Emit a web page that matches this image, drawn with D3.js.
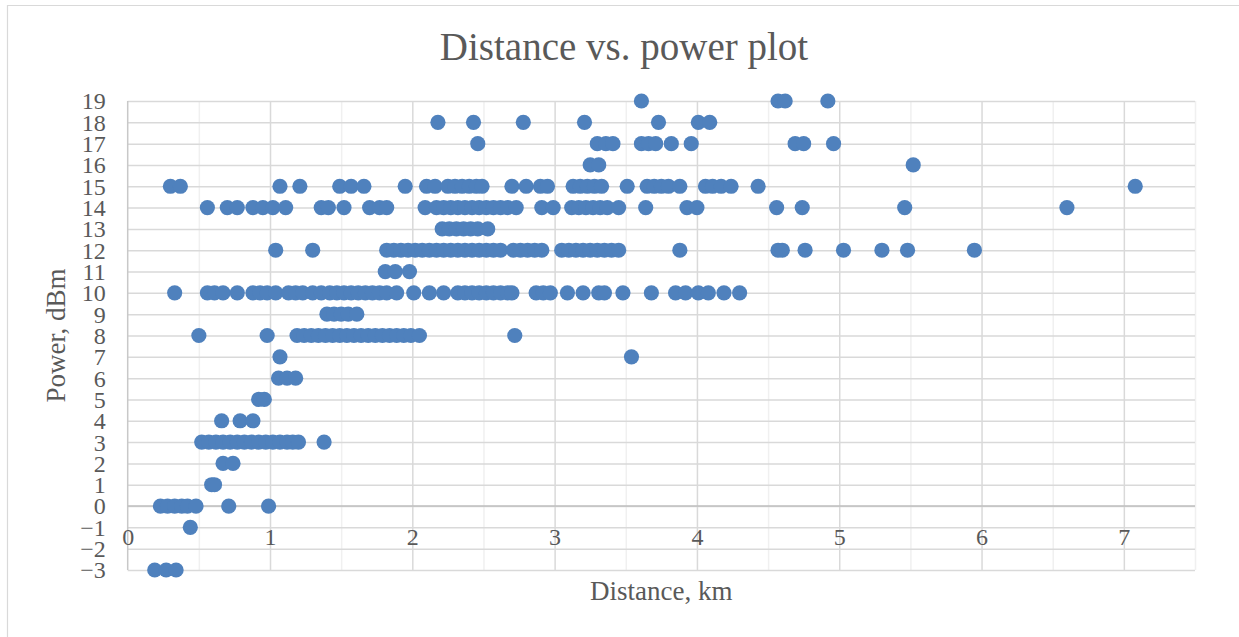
<!DOCTYPE html>
<html>
<head>
<meta charset="utf-8">
<script src="https://cdn.jsdelivr.net/npm/d3@7/dist/d3.min.js"></script>
<style>
  html, body { margin: 0; padding: 0; background: #ffffff; }
  svg { display: block; }
  text { font-family: "Liberation Serif", "Times New Roman", serif; fill: #595959; }
</style>
</head>
<body>
<div id="chart"></div>
<script>
const W = 1239;
const H = 637;

// distance (km) of each measurement, grouped by transmit power (dBm)
const powerLevels = [19, 18, 17, 16, 15, 14, 13, 12, 11, 10, 9, 8, 7, 6, 5, 4, 3, 2, 1, 0, -1, -3];

const dist19 = [3.61, 4.57, 4.62, 4.92];
const dist18 = [2.18, 2.43, 2.78, 3.21, 3.73, 4.01, 4.09];
const dist17 = [2.46, 3.30, 3.36, 3.41, 3.61, 3.66, 3.71, 3.82, 3.96, 4.69, 4.75, 4.96];
const dist16 = [3.25, 3.31, 5.52];
const dist15 = [0.30, 0.37, 1.07, 1.21, 1.49, 1.57, 1.66, 1.95, 2.10, 2.16, 2.25, 2.30, 2.35, 2.40, 2.45,
  2.49, 2.70, 2.80, 2.90, 2.95, 3.13, 3.18, 3.23, 3.28, 3.33, 3.51, 3.65, 3.70, 3.75, 3.80, 3.88,
  4.06, 4.11, 4.17, 4.24, 4.43, 7.08];
const dist14 = [0.56, 0.70, 0.77, 0.88, 0.95, 1.02, 1.11, 1.36, 1.41, 1.52, 1.70, 1.77, 1.82, 2.09,
  2.17, 2.22, 2.27, 2.32, 2.37, 2.42, 2.47, 2.52, 2.57, 2.62, 2.67, 2.73, 2.91, 2.99,
  3.12, 3.17, 3.22, 3.27, 3.32, 3.37, 3.45, 3.64, 3.93, 4.00, 4.56, 4.74, 5.46, 6.60];
const dist13 = [2.21, 2.26, 2.31, 2.36, 2.41, 2.46, 2.53];
const dist12 = [1.04, 1.30, 1.82, 1.87, 1.92, 1.97, 2.02, 2.07, 2.12, 2.17, 2.22, 2.27, 2.32, 2.37,
  2.42, 2.47, 2.52, 2.57, 2.62, 2.71, 2.76, 2.81, 2.86, 2.91, 3.05, 3.10, 3.15, 3.20, 3.25, 3.30,
  3.35, 3.40, 3.45, 3.88, 4.57, 4.60, 4.76, 5.03, 5.30, 5.48, 5.95];
const dist11 = [1.81, 1.88, 1.98];
const dist10 = [0.33, 0.56, 0.61, 0.67, 0.77, 0.88, 0.93, 0.98, 1.04, 1.13, 1.18, 1.23, 1.30, 1.36,
  1.42, 1.47, 1.52, 1.57, 1.62, 1.67, 1.72, 1.77, 1.82, 1.89, 2.01, 2.12, 2.22, 2.32, 2.37, 2.42,
  2.47, 2.52, 2.57, 2.62, 2.67, 2.70, 2.87, 2.92, 2.97, 3.09, 3.20, 3.31, 3.35, 3.48, 3.68,
  3.85, 3.92, 4.01, 4.08, 4.19, 4.30];
const dist9 = [1.40, 1.45, 1.50, 1.55, 1.61];
const dist8 = [0.50, 0.98, 1.19, 1.24, 1.29, 1.34, 1.39, 1.44, 1.49, 1.54, 1.59, 1.64, 1.69, 1.74,
  1.79, 1.84, 1.89, 1.94, 1.99, 2.05, 2.72];
const dist7 = [1.07, 3.54];
const dist6 = [1.06, 1.12, 1.18];
const dist5 = [0.92, 0.96];
const dist4 = [0.66, 0.79, 0.88];
const dist3 = [0.52, 0.57, 0.62, 0.67, 0.72, 0.77, 0.82, 0.87, 0.92, 0.97, 1.02, 1.07, 1.12, 1.16,
  1.20, 1.38];
const dist2 = [0.67, 0.74];
const dist1 = [0.59, 0.61];
const dist0 = [0.23, 0.28, 0.33, 0.38, 0.42, 0.48, 0.71, 0.99];
const distM1 = [0.44];
const distM3 = [0.19, 0.27, 0.34];

const distanceRows = [dist19, dist18, dist17, dist16, dist15, dist14, dist13, dist12, dist11, dist10,
  dist9, dist8, dist7, dist6, dist5, dist4, dist3, dist2, dist1, dist0, distM1, distM3];

const xTicks = [0, 1, 2, 3, 4, 5, 6, 7];
const xMinorTicks = [0.5, 1.5, 2.5, 3.5, 4.5, 5.5, 6.5, 7.5];
const yTicks = d3.range(-3, 20);

const TITLE = "Distance vs. power plot";
const X_LABEL = "Distance, km";
const Y_LABEL = "Power, dBm";

const points = distanceRows.flatMap((row, i) => row.map((d) => ({ distance: d, power: powerLevels[i] })));

const PLOT = { left: 127.7, right: 1195, top: 101, bottom: 570 };

const svg = d3.select("#chart").append("svg").attr("width", W).attr("height", H);

// chart area frame (only top and left edges are visible in the shot)
svg.append("line").attr("x1", 7).attr("x2", W).attr("y1", 5.5).attr("y2", 5.5)
  .attr("stroke", "#d9d9d9").attr("stroke-width", 1.2);
svg.append("line").attr("x1", 7.5).attr("x2", 7.5).attr("y1", 5).attr("y2", H)
  .attr("stroke", "#d9d9d9").attr("stroke-width", 1.2);

const x = d3.scaleLinear().domain([0, 7.5]).range([PLOT.left, PLOT.right]);
const y = d3.scaleLinear().domain([-3, 19]).range([PLOT.bottom, PLOT.top]);

// minor vertical grid
svg.append("g")
  .attr("class", "grid-minor")
  .attr("transform", `translate(0,${PLOT.bottom})`)
  .call(d3.axisBottom(x).tickValues(xMinorTicks).tickSize(-(PLOT.bottom - PLOT.top)).tickFormat(""))
  .call((g) => g.select(".domain").remove())
  .call((g) => g.selectAll("line").attr("stroke", "#f0f0f0").attr("stroke-width", 1.5));

// major vertical grid
svg.append("g")
  .attr("class", "grid-x")
  .attr("transform", `translate(0,${PLOT.bottom})`)
  .call(d3.axisBottom(x).tickValues(xTicks.slice(1)).tickSize(-(PLOT.bottom - PLOT.top)).tickFormat(""))
  .call((g) => g.select(".domain").remove())
  .call((g) => g.selectAll("line").attr("stroke", "#d9d9d9").attr("stroke-width", 1.5));

// horizontal grid
svg.append("g")
  .attr("class", "grid-y")
  .attr("transform", `translate(${PLOT.left},0)`)
  .call(d3.axisLeft(y).tickValues(yTicks).tickSize(-(PLOT.right - PLOT.left)).tickFormat(""))
  .call((g) => g.select(".domain").remove())
  .call((g) => g.selectAll("line").attr("stroke", "#d9d9d9").attr("stroke-width", 1.5));

// value axis line and category axis line (crosses at 0 dBm)
svg.append("line")
  .attr("x1", PLOT.left).attr("x2", PLOT.left).attr("y1", PLOT.top).attr("y2", PLOT.bottom)
  .attr("stroke", "#c8c8c8").attr("stroke-width", 1.5);
svg.append("line")
  .attr("x1", PLOT.left).attr("x2", PLOT.right).attr("y1", y(0)).attr("y2", y(0))
  .attr("stroke", "#bfbfbf").attr("stroke-width", 1.5);

// y tick labels
svg.append("g")
  .attr("class", "y-axis")
  .attr("transform", `translate(${PLOT.left},0)`)
  .call(d3.axisLeft(y).tickValues(yTicks).tickSize(0).tickPadding(22).tickFormat(d3.format("d")))
  .call((g) => g.select(".domain").remove())
  .call((g) => g.selectAll("text")
    .attr("font-size", 24)
    .attr("font-family", "Liberation Serif")
    .attr("fill", "#595959")
    .attr("dy", "0.33em"));

// x tick labels sit under the 0 dBm line
svg.append("g")
  .attr("class", "x-axis")
  .attr("transform", `translate(0,${y(0)})`)
  .call(d3.axisBottom(x).tickValues(xTicks).tickSize(0).tickFormat(d3.format("d")))
  .call((g) => g.select(".domain").remove())
  .call((g) => g.selectAll("text")
    .attr("font-size", 24)
    .attr("font-family", "Liberation Serif")
    .attr("fill", "#595959")
    .attr("y", 39)
    .attr("dy", 0));

svg.append("g")
  .attr("class", "points")
  .selectAll("circle")
  .data(points)
  .join("circle")
  .attr("cx", (d) => x(d.distance))
  .attr("cy", (d) => y(d.power))
  .attr("r", 7.6)
  .attr("fill", "#4f81bd");

svg.append("text")
  .attr("class", "title")
  .attr("x", 624)
  .attr("y", 60)
  .attr("text-anchor", "middle")
  .attr("font-size", 39)
  .text(TITLE);

svg.append("text")
  .attr("class", "axis-label")
  .attr("x", (PLOT.left + PLOT.right) / 2)
  .attr("y", 600)
  .attr("text-anchor", "middle")
  .attr("font-size", 27)
  .text(X_LABEL);

svg.append("text")
  .attr("class", "axis-label")
  .attr("transform", `translate(65,${(PLOT.top + PLOT.bottom) / 2}) rotate(-90)`)
  .attr("text-anchor", "middle")
  .attr("font-size", 27)
  .text(Y_LABEL);
</script>
</body>
</html>
